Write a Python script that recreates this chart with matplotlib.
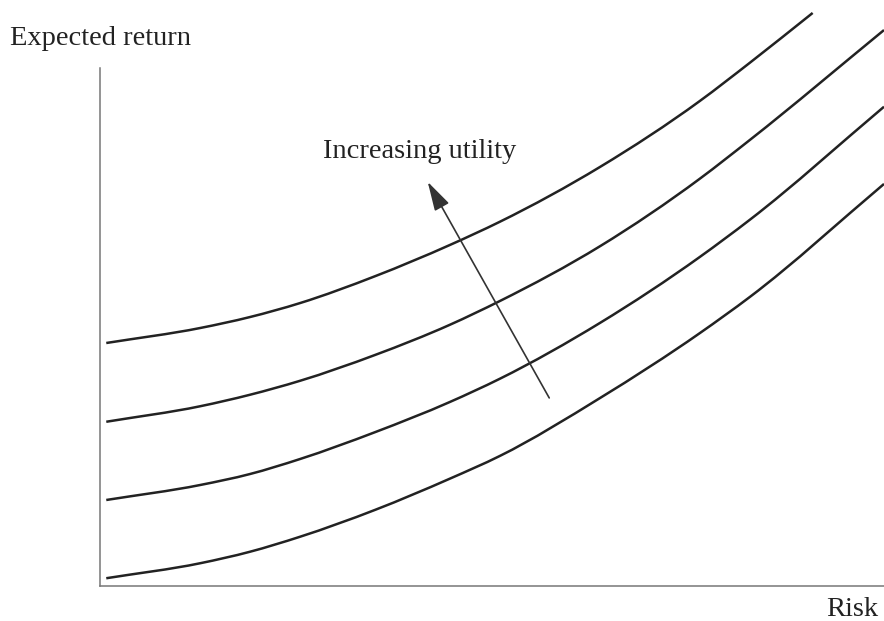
import numpy as np
import matplotlib
matplotlib.use('Agg')
import matplotlib.pyplot as plt
from matplotlib.path import Path
from matplotlib.patches import PathPatch

# risk values where the curves were read
risk = [0.08, 1.28, 1.91, 2.55, 3.51, 4.46, 5.10, 6.38, 7.65, 8.29]
# indifference curves, from highest utility to lowest
curve1 = [4.69, 4.98, 5.19, 5.46, 5.98, 6.58, 7.03, 8.09, 9.36, 10.10]
curve2 = [3.17, 3.47, 3.69, 3.96, 4.46, 5.04, 5.50, 6.56, 7.86, 8.61]
curve3 = [1.66, 1.95, 2.16, 2.45, 2.97, 3.55, 4.00, 5.08, 6.35, 7.07]
curve4 = [0.15, 0.44, 0.66, 0.95, 1.47, 2.07, 2.51, 3.63, 4.88, 5.58]
# last point of each curve (top one stops early, others run off the right edge)
end_risk = [9.09, 10.0, 10.0, 10.0]
end_ret = [11.06, 10.73, 9.25, 7.76]

arrow_tail = (5.73, 3.63)
arrow_head = (4.18, 7.80)


def smooth_path(xs, ys):
    # cubic Hermite through the read points (slopes from neighbours),
    # handed to matplotlib as Bezier segments
    x = np.asarray(xs, float)
    y = np.asarray(ys, float)
    m = np.gradient(y, x)
    verts = [(x[0], y[0])]
    codes = [Path.MOVETO]
    for i in range(len(x) - 1):
        h = x[i + 1] - x[i]
        verts += [(x[i] + h / 3, y[i] + m[i] * h / 3),
                  (x[i + 1] - h / 3, y[i + 1] - m[i + 1] * h / 3),
                  (x[i + 1], y[i + 1])]
        codes += [Path.CURVE4] * 3
    return Path(verts, codes)


font = 'Liberation Serif'
fig = plt.figure(figsize=(8.84, 6.21), dpi=100)
ax = fig.add_axes([100/884, 35/621, 784/884, 586/621])
ax.set_xlim(0, 10)
ax.set_ylim(0, 11.31)

for c, xe, ye in zip([curve1, curve2, curve3, curve4], end_risk, end_ret):
    path = smooth_path(risk + [xe], c + [ye])
    ax.add_patch(PathPatch(path, fill=False, edgecolor='#222222', lw=1.8,
                           capstyle='butt', clip_on=False))

ax.annotate('', xy=arrow_head, xytext=arrow_tail,
            arrowprops=dict(arrowstyle='-|>,head_length=0.9,head_width=0.25',
                            mutation_scale=20, lw=1.2, color='#333333',
                            shrinkA=0, shrinkB=0))

for s in ['top', 'right']:
    ax.spines[s].set_visible(False)
for s in ['left', 'bottom']:
    ax.spines[s].set_color('#777777')
    ax.spines[s].set_linewidth(1.1)
ax.spines['left'].set_bounds(0, 10)
ax.set_xticks([])
ax.set_yticks([])

fig.text(10/884, 1 - 45/621, 'Expected return', family=font, fontsize=20.5,
         ha='left', va='baseline', color='#222222')
fig.text(878/884, 1 - 616/621, 'Risk', family=font, fontsize=20.5,
         ha='right', va='baseline', color='#222222')
fig.text(323/884, 1 - 158/621, 'Increasing utility', family=font, fontsize=20.5,
         ha='left', va='baseline', color='#222222')

fig.savefig('out.png', dpi=100)
